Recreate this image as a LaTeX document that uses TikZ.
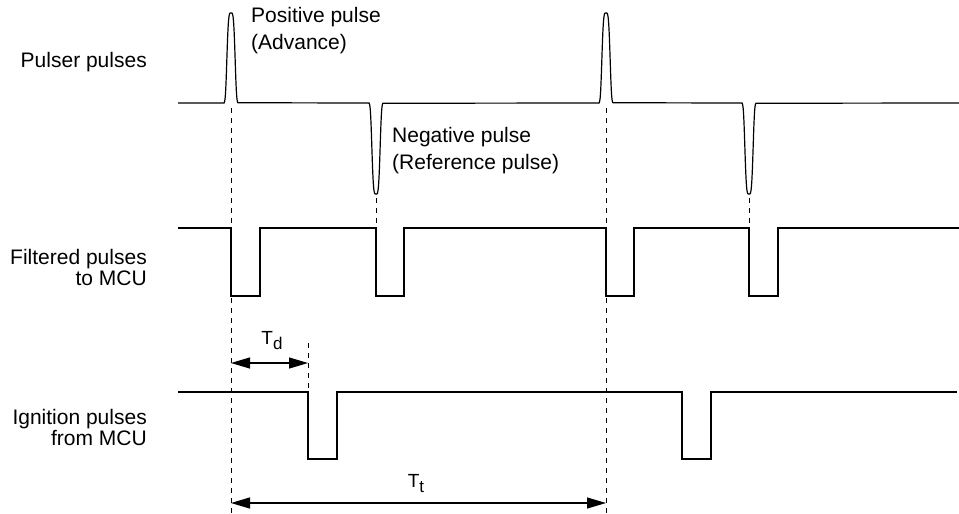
\documentclass[tikz,border=0pt]{standalone}
\usepackage{fontspec}
\setmainfont{Liberation Sans}
\usetikzlibrary{arrows.meta}
\begin{document}
\begin{tikzpicture}[x=1pt,y=-1pt,
  wave/.style={line width=1.2pt, line join=miter},
  guide/.style={line width=0.9pt, dash pattern=on 5pt off 5pt},
  dim/.style={line width=1.2pt, {Triangle[length=19pt,width=11pt]}-{Triangle[length=19pt,width=11pt]}},
  lbl/.style={inner sep=0pt, font=\fontsize{21}{21}\selectfont},
  note/.style={inner sep=0pt, align=left, font=\fontsize{21}{27}\selectfont},
  tlbl/.style={inner sep=0pt, font=\fontsize{19}{19}\selectfont}]
\useasboundingbox (0,0) rectangle (959,514);

% labels
\node[lbl, anchor=east] (lp) at (147,62) {Pulser pulses};
\node[lbl, anchor=east, align=right] (lf) at (147,267.5) {Filtered pulses\\to MCU};
\node[lbl, anchor=east, align=right] (li) at (147,427.5) {Ignition pulses\\from MCU};
\node[note, anchor=west] (npos) at (251,30.5) {Positive pulse\\(Advance)};
\node[note, anchor=west] (nneg) at (392,151) {Negative pulse\\(Reference pulse)};

% pulser pulses
\draw[wave] (178,103) -- (224,103)
  -- plot[domain=-7:7,samples=57] ({231+\x},{103-90*exp(-((\x*\x)/20.25)^2)})
  -- (369,103)
  -- plot[domain=-7:7,samples=57] ({376+\x},{103+91*exp(-((\x*\x)/20.25)^2)})
  -- (599,103)
  -- plot[domain=-7:7,samples=57] ({606+\x},{103-90*exp(-((\x*\x)/20.25)^2)})
  -- (742,103)
  -- plot[domain=-7:7,samples=57] ({749+\x},{103+91*exp(-((\x*\x)/20.25)^2)})
  -- (959,103);

% filtered pulses
\draw[wave] (178,228) -- (231,228) -- (231,296) -- (260,296) -- (260,228)
  -- (376,228) -- (376,296) -- (404,296) -- (404,228)
  -- (606,228) -- (606,296) -- (634,296) -- (634,228)
  -- (749,228) -- (749,296) -- (778,296) -- (778,228) -- (959,228);

% ignition pulses
\draw[wave] (178,392) -- (308,392) -- (308,459) -- (337,459) -- (337,392)
  -- (682,392) -- (682,459) -- (711,459) -- (711,392) -- (957,392);

% guide coordinates
\coordinate (g1t) at (231,108); \coordinate (g1b) at (231,514);
\coordinate (g2t) at (376,198); \coordinate (g2b) at (376,228);
\coordinate (g3t) at (606,108); \coordinate (g3b) at (606,514);
\coordinate (g4t) at (749,198); \coordinate (g4b) at (749,228);
\coordinate (g5t) at (308,343); \coordinate (g5b) at (308,392);
\draw[guide] (g1t) -- (g1b);
\draw[guide] (g2t) -- (g2b);
\draw[guide] (g3t) -- (g3b);
\draw[guide] (g4t) -- (g4b);
\draw[guide] (g5t) -- (g5b);

% dimensions
\coordinate (tda) at (231,363); \coordinate (tdb) at (308,363);
\coordinate (tta) at (231,503); \coordinate (ttb) at (606,503);
\draw[dim] (tda) -- (tdb);
\draw[dim] (tta) -- (ttb);
\node[tlbl] (td) at (272,341) {T\raisebox{-5pt}{\fontsize{17}{17}\selectfont d}};
\node[tlbl] (tt) at (416,484) {T\raisebox{-5pt}{\fontsize{17}{17}\selectfont t}};
\end{tikzpicture}
\end{document}
